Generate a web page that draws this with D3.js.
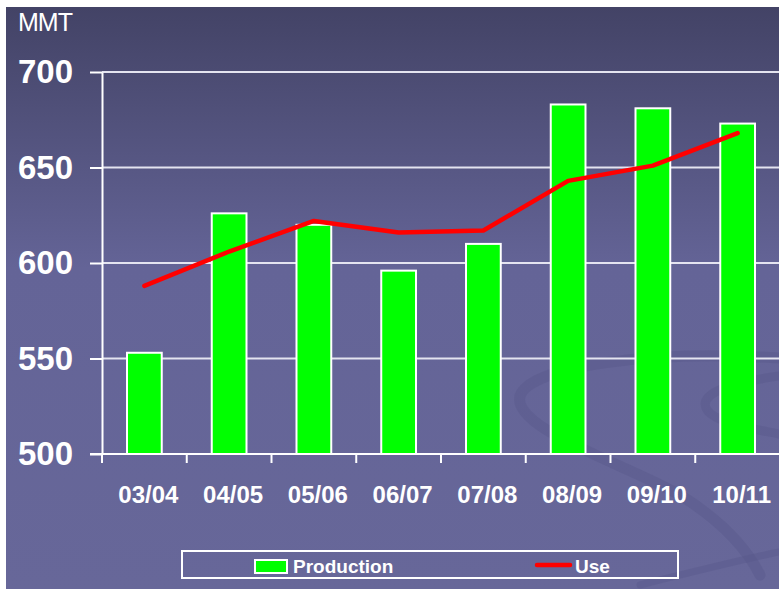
<!DOCTYPE html>
<html>
<head>
<meta charset="utf-8">
<script src="https://cdn.jsdelivr.net/npm/d3@7"></script>
<style>
  html, body { margin:0; padding:0; background:#fff; }
  svg { display:block; font-family:"Liberation Sans", Arial, sans-serif; }
</style>
</head>
<body>
<div id="chart"></div>
<script>
// data
var seasons    = ['03/04','04/05','05/06','06/07','07/08','08/09','09/10','10/11'];
var production = [553, 626, 620, 596, 610, 683, 681, 673];
var use        = [588, 606, 622, 616, 617, 643, 651, 668];
var yTicks     = [500, 550, 600, 650, 700];

var W = 779, H = 590;
var plotL = 102, plotR = 780, plotT = 72, plotB = 454;

var svg = d3.select('#chart').append('svg')
    .attr('width', W)
    .attr('height', H);

// background gradient
var defs = svg.append('defs');
var grad = defs.append('linearGradient')
    .attr('id', 'bg')
    .attr('x1', '0%').attr('y1', '0%')
    .attr('x2', '0%').attr('y2', '100%');
grad.append('stop').attr('offset', '0%').attr('stop-color', '#434366');
grad.append('stop').attr('offset', '45%').attr('stop-color', '#646497');
grad.append('stop').attr('offset', '100%').attr('stop-color', '#676799');

svg.append('rect')
    .attr('x', 6).attr('y', 7)
    .attr('width', W - 6).attr('height', H - 8)
    .attr('fill', 'url(#bg)');

// faint swoosh in the lower right
var sw = svg.append('g')
    .attr('fill', 'none')
    .attr('stroke', '#58588a')
    .attr('stroke-opacity', 0.4)
    .attr('stroke-linecap', 'round');
sw.append('path')
    .attr('stroke-width', 11)
    .attr('d', 'M779,358 C650,350 530,366 520,396 C512,428 620,462 680,495 C720,520 745,545 760,575');
sw.append('path')
    .attr('stroke-width', 9)
    .attr('d', 'M779,376 C730,383 700,393 706,408 C712,423 760,430 779,434');
sw.append('path')
    .attr('stroke-width', 7)
    .attr('d', 'M640,585 C700,570 740,560 779,552');

var x = d3.scaleBand()
    .domain(seasons)
    .range([plotL, plotR])
    .padding(0);

var y = d3.scaleLinear()
    .domain([500, 700])
    .range([plotB, plotT]);

// gridlines
svg.append('g').selectAll('line')
    .data(yTicks.filter(function(d){ return d > 500; }))
    .join('line')
    .attr('x1', plotL).attr('x2', W)
    .attr('y1', function(d){ return y(d); })
    .attr('y2', function(d){ return y(d); })
    .attr('stroke', '#e4e4f0')
    .attr('stroke-width', 2);

// y axis
var yAxis = svg.append('g')
    .attr('transform', 'translate(' + plotL + ',0)')
    .call(d3.axisLeft(y).tickValues(yTicks).tickSize(12).tickPadding(17).tickSizeOuter(0));
yAxis.select('.domain').attr('stroke', '#fff').attr('stroke-width', 2);
yAxis.selectAll('.tick line').attr('stroke', '#fff').attr('stroke-width', 2);
yAxis.selectAll('.tick text')
    .attr('fill', '#fff')
    .attr('font-size', '33px')
    .attr('font-weight', 'bold')
    .attr('font-family', '"Liberation Sans", Arial, sans-serif');

svg.append('text')
    .attr('x', 18).attr('y', 31)
    .attr('fill', '#fff')
    .attr('font-size', '25px')
    .attr('letter-spacing', '-1px')
    .text('MMT');

// bars
var barW = x.step() * 0.41;
svg.append('g').selectAll('rect')
    .data(seasons)
    .join('rect')
    .attr('x', function(d){ return x(d) + x.bandwidth() / 2 - barW / 2; })
    .attr('y', function(d, i){ return y(production[i]); })
    .attr('width', barW)
    .attr('height', function(d, i){ return plotB - y(production[i]); })
    .attr('fill', '#00ff00')
    .attr('stroke', '#fff')
    .attr('stroke-width', 2);

// x axis
var xg = svg.append('g');
xg.append('line')
    .attr('x1', 90).attr('x2', W)
    .attr('y1', plotB).attr('y2', plotB)
    .attr('stroke', '#fff').attr('stroke-width', 2);
xg.selectAll('.xt')
    .data(seasons)
    .join('line')
    .attr('class', 'xt')
    .attr('x1', function(d){ return x(d); })
    .attr('x2', function(d){ return x(d); })
    .attr('y1', plotB).attr('y2', plotB + 9)
    .attr('stroke', '#fff').attr('stroke-width', 2);
xg.selectAll('text')
    .data(seasons)
    .join('text')
    .attr('x', function(d){ return x(d) + x.bandwidth() / 2 + 4; })
    .attr('y', 503)
    .attr('text-anchor', 'middle')
    .attr('fill', '#fff')
    .attr('font-size', '24px')
    .attr('font-weight', 'bold')
    .text(function(d){ return d; });

// use line
var line = d3.line()
    .x(function(d, i){ return x(seasons[i]) + x.bandwidth() / 2; })
    .y(function(d){ return y(d); })
    .curve(d3.curveLinear);
svg.append('path')
    .datum(use)
    .attr('d', line)
    .attr('fill', 'none')
    .attr('stroke', '#ff0000')
    .attr('stroke-width', 4.5)
    .attr('stroke-linejoin', 'round')
    .attr('stroke-linecap', 'round');

// legend
var lg = svg.append('g');
lg.append('rect')
    .attr('x', 182).attr('y', 551)
    .attr('width', 496).attr('height', 27)
    .attr('fill', 'none')
    .attr('stroke', '#fff')
    .attr('stroke-width', 2);
lg.append('rect')
    .attr('x', 255).attr('y', 560)
    .attr('width', 32).attr('height', 13)
    .attr('fill', '#00ff00')
    .attr('stroke', '#fff')
    .attr('stroke-width', 2);
lg.append('text')
    .attr('x', 293).attr('y', 573)
    .attr('fill', '#fff')
    .attr('font-size', '19px')
    .attr('font-weight', 'bold')
    .text('Production');
lg.append('line')
    .attr('x1', 537).attr('x2', 570)
    .attr('y1', 565).attr('y2', 565)
    .attr('stroke', '#ff0000')
    .attr('stroke-width', 4.5)
    .attr('stroke-linecap', 'round');
lg.append('text')
    .attr('x', 575).attr('y', 573)
    .attr('fill', '#fff')
    .attr('font-size', '19px')
    .attr('font-weight', 'bold')
    .text('Use');
</script>
</body>
</html>
